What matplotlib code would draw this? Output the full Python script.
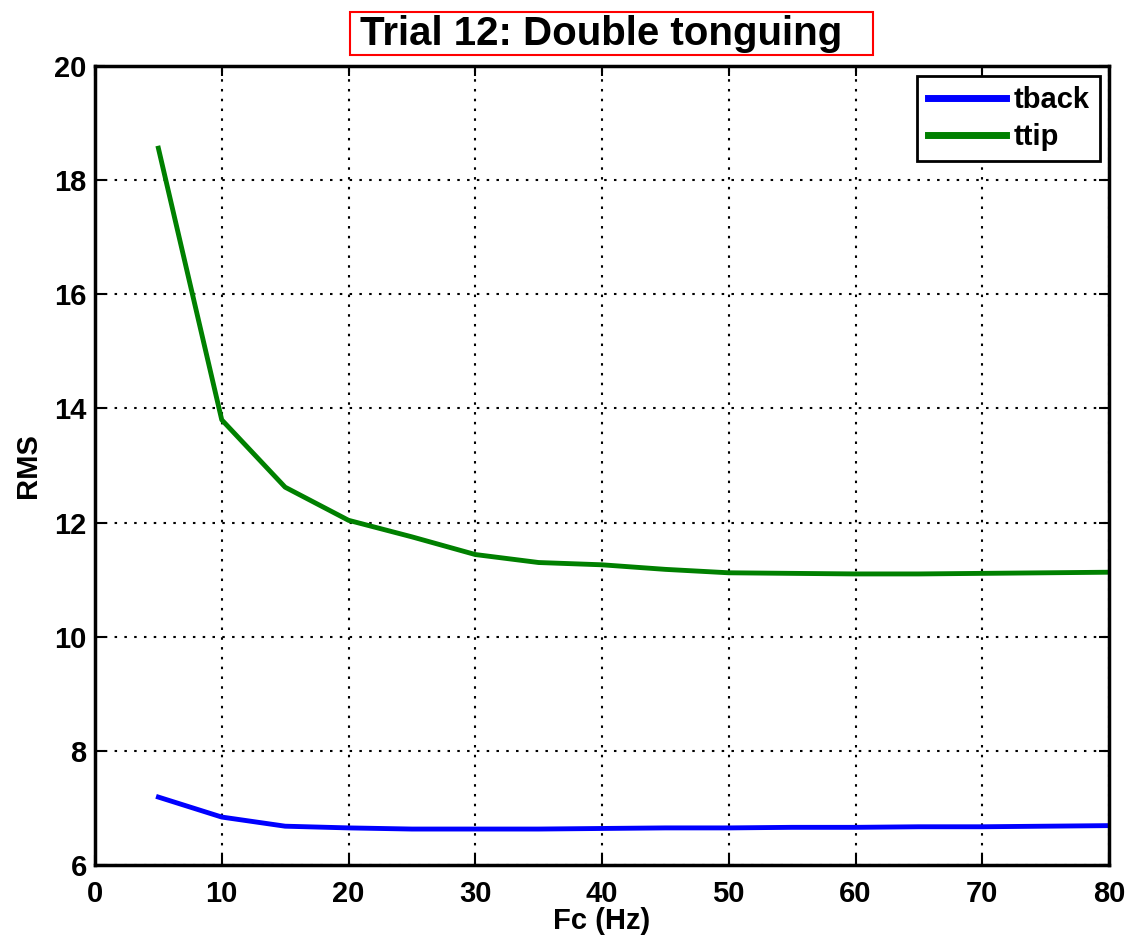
import matplotlib
matplotlib.use("Agg")
import matplotlib.pyplot as plt
from matplotlib.patches import Rectangle

plt.rcParams['font.family'] = ['Liberation Sans', 'DejaVu Sans']
plt.rcParams['font.weight'] = 'bold'

fc = [5, 10, 15, 20, 25, 30, 35, 40, 45, 50, 55, 60, 65, 70, 75, 80]
tback = [7.19, 6.84, 6.68, 6.65, 6.63, 6.63, 6.63, 6.64, 6.65, 6.65, 6.66, 6.66, 6.67, 6.67, 6.68, 6.69]
ttip = [18.56, 13.80, 12.62, 12.04, 11.75, 11.44, 11.30, 11.26, 11.18, 11.12, 11.11, 11.10, 11.10, 11.11, 11.12, 11.13]

W, H = 1134, 940
fig = plt.figure(figsize=(W / 100, H / 100), dpi=100)
ax = fig.add_axes([95 / W, 1 - 865 / H, 1014 / W, 799 / H])

ax.plot(fc, tback, color='#0000ff', lw=3.5, label='tback')
ax.plot(fc, ttip, color='#008000', lw=3.5, label='ttip')

ax.set_xlim(0, 80)
ax.set_ylim(6, 20)
ax.set_xticks(range(0, 81, 10))
ax.set_yticks(range(6, 21, 2))
ax.grid(True, linestyle=(0, (1.2, 3.5)), color='black', lw=1.5)
ax.tick_params(direction='in', length=7, width=1.5, labelsize=21, top=True, right=True)
ax.tick_params(axis='x', pad=11)
ax.tick_params(axis='y', pad=6)
for s in ax.spines.values():
    s.set_linewidth(2.5)

ax.set_xlabel('Fc (Hz)', fontsize=21, fontweight='bold', labelpad=-1)
ax.set_ylabel('RMS', fontsize=21, fontweight='bold', labelpad=9)

# title with a red frame around it
fig.text(601 / W, 1 - 34 / H, 'Trial 12: Double tonguing', fontsize=29, fontweight='bold',
         ha='center', va='center')
fig.patches.append(Rectangle((350 / W, 1 - 55 / H), 523 / W, 43 / H, transform=fig.transFigure,
                             fill=False, edgecolor='red', lw=1.5))

leg = ax.legend(loc='upper right', fontsize=21, frameon=True, fancybox=False,
                handlelength=2.7, handletextpad=0.25, borderpad=0.35, labelspacing=0.3,
                borderaxespad=0, bbox_to_anchor=(0.991, 0.9875))
leg.get_frame().set_edgecolor('black')
leg.get_frame().set_linewidth(2)
leg.get_frame().set_alpha(1)
for t in leg.get_texts():
    t.set_fontweight('bold')
for h in leg.get_lines():
    h.set_linewidth(5)

fig.savefig('out.png', dpi=100)
